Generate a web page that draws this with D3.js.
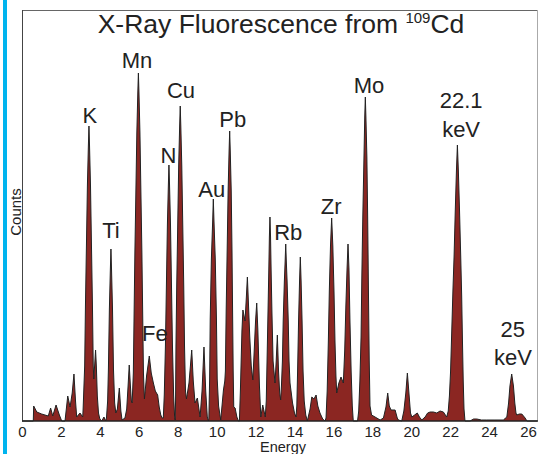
<!DOCTYPE html>
<html>
<head>
<meta charset="utf-8">
<script src="https://cdn.jsdelivr.net/npm/d3@7"></script>
<style>
  body { margin: 0; background: #fff; }
  text { font-family: "Liberation Sans", Arial, Helvetica, sans-serif; fill: #222; }
</style>
</head>
<body>
<div id="container_div"></div>
<script>
/************************************************
 * Description: XRF spectrum from a 109Cd source *
 ************************************************/

/*
 * Data: energy (keV) and counts
 */
var gvEnergy = [
  0, 0.58, 0.60, 0.76, 1.01, 1.35, 1.47, 1.58, 1.75, 1.92, 2.04, 2.21, 2.35, 2.47, 2.58, 2.67, 2.75, 2.81, 2.98, 3.12,
  3.14, 3.22, 3.26, 3.31, 3.36, 3.41, 3.44, 3.47, 3.52, 3.57, 3.62, 3.66, 3.69, 3.74, 3.78, 3.82, 3.87, 3.93, 4.00, 4.10, 4.21, 4.30,
  4.34, 4.40, 4.44, 4.49, 4.54, 4.57, 4.60, 4.65, 4.70, 4.76, 4.82, 4.90, 5.00, 5.08, 5.14, 5.29, 5.38, 5.45, 5.51, 5.57, 5.62,
  5.66, 5.72, 5.76, 5.80, 5.85, 5.90, 5.95, 5.98, 6.01, 6.06, 6.11, 6.16, 6.20, 6.24, 6.29, 6.40, 6.54, 6.64, 6.75, 6.85, 6.97, 7.05, 7.13, 7.20,
  7.26, 7.31, 7.37, 7.42, 7.47, 7.52, 7.55, 7.58, 7.63, 7.68, 7.73, 7.79, 7.84, 7.87,
  7.89, 7.91, 7.95, 8.00, 8.05, 8.10, 8.13, 8.16, 8.21, 8.26, 8.31, 8.35, 8.40, 8.45, 8.58, 8.72, 8.80, 8.89, 9.01, 9.15, 9.25, 9.35, 9.44, 9.52, 9.58,
  9.60, 9.64, 9.67, 9.73, 9.80, 9.83, 9.86, 9.93, 9.99, 10.03, 10.10, 10.21, 10.35,
  10.42, 10.45, 10.49, 10.54, 10.59, 10.64, 10.67, 10.70, 10.75, 10.79, 10.82, 10.85, 10.88, 10.95, 11.04, 11.12,
  11.17, 11.22, 11.30, 11.35, 11.46, 11.53, 11.58, 11.63, 11.70, 11.78, 11.86, 11.93, 12.00, 12.06, 12.12, 12.20, 12.27, 12.37, 12.50,
  12.55, 12.60, 12.64, 12.68, 12.71, 12.74, 12.77, 12.80, 12.84, 12.90, 13.00, 13.06, 13.12, 13.18, 13.24, 13.29,
  13.33, 13.38, 13.42, 13.48, 13.52, 13.55, 13.58, 13.62, 13.68, 13.72, 13.77, 13.90, 14.00, 14.08,
  14.12, 14.16, 14.21, 14.26, 14.30, 14.34, 14.39, 14.44, 14.50, 14.58, 14.66, 14.80, 14.89, 15.00, 15.11, 15.20, 15.31, 15.45, 15.57,
  15.62, 15.68, 15.74, 15.79, 15.85, 15.91, 15.97, 16.03, 16.08, 16.13, 16.17, 16.28, 16.39, 16.51, 16.58, 16.64, 16.70, 16.75, 16.80, 16.85, 16.91, 16.97, 17.02, 17.16,
  17.24, 17.30, 17.36, 17.42, 17.46, 17.51, 17.57, 17.61, 17.64, 17.67, 17.72, 17.76, 17.80, 17.84, 17.88, 17.96,
  18.14, 18.40, 18.57, 18.70, 18.79, 18.87, 18.96, 19.17, 19.28, 19.34, 19.51, 19.62, 19.72, 19.80, 19.88, 19.96, 20.03, 20.17, 20.31, 20.42, 20.54, 20.71, 20.84, 20.97, 21.14, 21.31, 21.48, 21.65, 21.82,
  21.90, 21.96, 22.02, 22.08, 22.14, 22.20, 22.26, 22.32, 22.37, 22.42, 22.48, 22.54, 22.59, 22.63, 22.67, 22.71, 22.76, 23.02, 23.20, 23.37, 23.60, 23.88, 24.30, 24.73, 24.91,
  25.00, 25.07, 25.16, 25.25, 25.32, 25.38, 25.42, 25.55, 25.68, 25.85, 25.94, 26.46
];

var gvCounts = [
  0, 0, 15, 9, 7, 5, 13, 5, 16, 6, 0, 0, 25, 14, 28, 47, 20, 4, 8, 4,
  12, 55, 115, 175, 235, 275, 295, 275, 235, 175, 115, 55, 42, 58, 71, 55, 25, 8, 2, 0, 4, 0,
  3, 20, 52, 112, 152, 172, 152, 112, 52, 18, 8, 12, 33, 10, 1, 3, 12, 35, 56, 35, 20,
  18, 48, 108, 168, 228, 288, 328, 348, 328, 288, 228, 168, 108, 48, 22, 45, 65, 48, 38, 30, 26, 14, 6, 3,
  3, 26, 76, 136, 196, 236, 256, 236, 196, 136, 76, 26, 5, 1,
  20, 75, 135, 195, 255, 295, 315, 295, 255, 195, 135, 75, 30, 22, 38, 71, 40, 18, 23, 4, 30, 74, 30, 4, 0,
  2, 42, 102, 162, 202, 222, 202, 162, 102, 42, 15, 1, 31,
  40, 50, 110, 170, 230, 270, 290, 270, 230, 170, 110, 50, 14, 13, 4, 0,
  0, 30, 90, 111, 100, 125, 144, 120, 85, 55, 41, 70, 100, 118, 90, 35, 4, 16, 4,
  20, 70, 110, 150, 184, 204, 184, 150, 110, 60, 38, 60, 86, 50, 28, 21,
  35, 60, 100, 140, 160, 177, 160, 140, 100, 60, 38, 18, 8, 4,
  15, 50, 100, 140, 164, 140, 100, 50, 20, 6, 0, 12, 24, 22, 26, 15, 8, 2, 0,
  3, 30, 80, 130, 175, 203, 175, 130, 80, 45, 28, 38, 44, 38, 70, 115, 152, 177, 152, 100, 50, 15, 0, 0,
  0, 10, 40, 84, 144, 204, 264, 304, 324, 304, 264, 204, 130, 60, 15, 6,
  4, 1, 3, 14, 28, 15, 11, 11, 3, 1, 0, 10, 28, 48, 28, 8, 4, 6, 8, 4, 1, 4, 8, 9, 9, 8, 10, 9, 4,
  10, 25, 50, 90, 130, 165, 210, 250, 276, 250, 210, 165, 125, 80, 40, 12, 0, 0, 2, 2, 1, 1, 1, 1, 4,
  18, 35, 47, 35, 18, 8, 6, 7, 7, 3, 0, 0
];

var gvTickValues = [0, 2, 4, 6, 8, 10, 12, 14, 16, 18, 20, 22, 24, 26];

// peak annotations: text, energy, counts (label baseline)
var gvPeakNames  = ['K', 'Ti', 'Mn', 'Fe', 'N', 'Cu', 'Au', 'Pb', 'Rb', 'Zr', 'Mo', '22.1', 'keV', '25', 'keV'];
var gvPeakEnergy = [3.49, 4.57, 5.91, 6.83, 7.52, 8.17, 9.75, 10.83, 13.68, 15.88, 17.83, 22.56, 22.56, 25.22, 25.22];
var gvPeakCounts = [298, 183, 353, 80, 258, 323, 224, 294, 181, 207, 328, 313, 284, 84, 56];

/********
 * Init *
 ********/

(function initialise() {
  buildChart();
})();

function buildChart() {

  var lvWidth = 539, lvHeight = 454;
  var lvLeft = 22, lvRight = 537, lvTop = 10, lvBottom = 421;

  var svg = d3.select('#container_div')
    .append('svg')
    .attr('width', lvWidth)
    .attr('height', lvHeight);

  // blue side bar
  svg.append('rect')
    .attr('x', 3).attr('y', 0)
    .attr('width', 4).attr('height', lvHeight)
    .attr('fill', '#00b4ee');

  var x_scale = d3.scaleLinear()
    .domain([0, 26.46])
    .range([lvLeft, lvRight]);

  var y_scale = d3.scaleLinear()
    .domain([0, 411])
    .range([lvBottom, lvTop]);

  var n = Math.min(gvEnergy.length, gvCounts.length);
  var data = [];
  for (var i = 0; i < n; i++) {
    data.push([gvEnergy[i], gvCounts[i]]);
  }

  var area = d3.area()
    .x(function(d) { return x_scale(d[0]); })
    .y0(y_scale(0))
    .y1(function(d) { return y_scale(d[1]); });

  var line = d3.line()
    .x(function(d) { return x_scale(d[0]); })
    .y(function(d) { return y_scale(d[1]); });

  svg.append('path')
    .datum(data)
    .attr('d', area)
    .attr('fill', '#8b2622');

  svg.append('path')
    .datum(data)
    .attr('d', line)
    .attr('fill', 'none')
    .attr('stroke', '#222')
    .attr('stroke-width', 1)
    .attr('stroke-linejoin', 'round');

  // frame
  svg.append('line').attr('x1', lvLeft).attr('x2', lvRight).attr('y1', lvTop + 0.5).attr('y2', lvTop + 0.5)
    .attr('stroke', '#666').attr('stroke-width', 1);
  svg.append('line').attr('x1', lvLeft + 0.5).attr('x2', lvLeft + 0.5).attr('y1', lvTop).attr('y2', lvBottom)
    .attr('stroke', '#444').attr('stroke-width', 1);
  svg.append('line').attr('x1', lvRight + 0.5).attr('x2', lvRight + 0.5).attr('y1', lvTop).attr('y2', lvBottom)
    .attr('stroke', '#aaa').attr('stroke-width', 1);
  svg.append('line').attr('x1', lvLeft).attr('x2', lvRight + 1).attr('y1', lvBottom).attr('y2', lvBottom)
    .attr('stroke', '#222').attr('stroke-width', 1.5);

  // x axis labels
  var x_axis = d3.axisBottom(x_scale)
    .tickValues(gvTickValues)
    .tickSize(0)
    .tickPadding(5);

  var g = svg.append('g')
    .attr('transform', 'translate(0,' + lvBottom + ')')
    .call(x_axis);
  g.select('.domain').remove();
  g.selectAll('text')
    .attr('fill', '#222')
    .style('font-size', '15px')
    .style('font-family', '"Liberation Sans", Arial, sans-serif');

  svg.append('text')
    .attr('x', 283).attr('y', 452)
    .attr('text-anchor', 'middle')
    .style('font-size', '14.5px')
    .text('Energy');

  svg.append('text')
    .attr('transform', 'translate(21,212) rotate(-90)')
    .attr('text-anchor', 'middle')
    .style('font-size', '15px')
    .text('Counts');

  // title with superscript
  var title = svg.append('text')
    .attr('x', 281).attr('y', 33)
    .attr('text-anchor', 'middle')
    .style('font-size', '26.5px');
  title.append('tspan').text('X-Ray Fluorescence from ');
  title.append('tspan').attr('dy', -10).style('font-size', '15px').text('109');
  title.append('tspan').attr('dy', 10).text('Cd');

  // peak labels
  svg.selectAll('.peakLabel')
    .data(gvPeakNames)
    .enter()
    .append('text')
    .attr('class', 'peakLabel')
    .attr('x', function(d, i) { return x_scale(gvPeakEnergy[i]); })
    .attr('y', function(d, i) { return y_scale(gvPeakCounts[i]); })
    .attr('text-anchor', 'middle')
    .style('font-size', '22px')
    .text(function(d) { return d; });
}
</script>
</body>
</html>
